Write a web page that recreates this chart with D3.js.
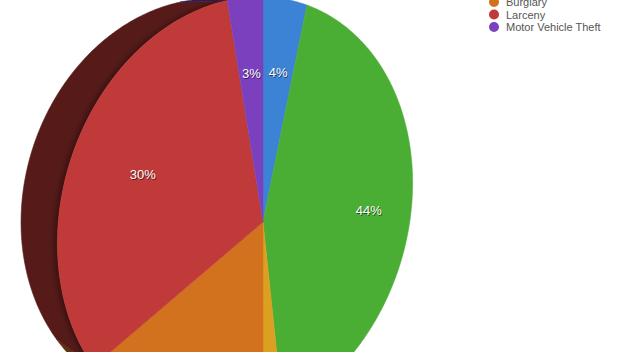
<!DOCTYPE html>
<html>
<head>
<meta charset="utf-8">
<script src="https://cdn.jsdelivr.net/npm/d3@7"></script>
<style>
  html, body { margin: 0; padding: 0; background: #fff; }
  svg { display: block; }
  .label { font-family: "Liberation Sans", Arial, sans-serif; font-size: 13px; fill: #fff;
           text-anchor: middle; dominant-baseline: central; }
  .legend text { font-family: "Liberation Sans", Arial, sans-serif; font-size: 11px; fill: #555; }
</style>
</head>
<body>
<svg id="chart" width="622" height="352"></svg>
<script>
// crime share, clockwise from 12 o'clock
var categories = ['Robbery', 'Assault', 'Homicide', 'Burglary', 'Larceny', 'Motor Vehicle Theft'];
var shares = [4, 44, 2, 17, 30, 3];
var labels = ['4%', '44%', '', '', '30%', '3%'];
var topColors = ['#3c83d6', '#4aad34', '#dca021', '#d2721f', '#bf3a39', '#7a40bd'];
var sideColors = ['#1c3a60', '#21501a', '#634810', '#5e3210', '#561b19', '#361c55'];

var svg = d3.select('#chart');
var defs = svg.append('defs');
defs.append('filter').attr('id', 'soft')
  .attr('x', '-10%').attr('y', '-10%').attr('width', '120%').attr('height', '120%')
  .append('feGaussianBlur').attr('stdDeviation', 3);
var wallClip = defs.append('clipPath').attr('id', 'wallClip');

// perspective view of the disc
var view = {
  cx: 263, cy: 222, k: 217, persp: 0.268,
  yaw: 37.2 * Math.PI / 180, pitch: 13.9 * Math.PI / 180, depth: 0.376
};

var project = function(theta, rad, z) {
  var x = rad * Math.sin(theta), y = -rad * Math.cos(theta);
  var ca = Math.cos(view.yaw), sa = Math.sin(view.yaw);
  var cb = Math.cos(view.pitch), sb = Math.sin(view.pitch);
  var x1 = x * ca - z * sa, z1 = x * sa + z * ca;
  var y2 = y * cb - z1 * sb, z2 = y * sb + z1 * cb;
  var w = 1 + view.persp * z2;
  return [view.cx + view.k * x1 / w, view.cy + view.k * y2 / w];
};

var pie = d3.pie().sort(null).value(function(d) { return d; });
var arcs = pie(shares);
var line = d3.line();
var step = Math.PI / 360;

var sampleArc = function(a0, a1) {
  var n = Math.max(2, Math.ceil((a1 - a0) / step));
  return d3.range(n + 1).map(function(i) { return a0 + (a1 - a0) * i / n; });
};

// side walls, only the parts turned towards us
var walls = svg.append('g');
arcs.forEach(function(a, i) {
  var ts = sampleArc(a.startAngle, a.endAngle);
  var front = [], back = [];
  for (var j = 0; j < ts.length - 1; j++) {
    var f0 = project(ts[j], 1, 0), f1 = project(ts[j + 1], 1, 0);
    var b0 = project(ts[j], 1, view.depth);
    var cross = (f1[0] - f0[0]) * (b0[1] - f0[1]) - (f1[1] - f0[1]) * (b0[0] - f0[0]);
    if (cross < 0) {
      if (!front.length) { front.push(f0); back.push(b0); }
      front.push(f1); back.push(project(ts[j + 1], 1, view.depth));
    }
  }
  if (front.length) {
    var d = line(front.concat(back.reverse())) + 'Z';
    walls.append('path').attr('d', d)
      .attr('fill', sideColors[i])
      .attr('stroke', sideColors[i])
      .attr('stroke-width', 0.6);
    wallClip.append('path').attr('d', d);
  }
});

// shadow of the top face on the rim
var rim = d3.range(0, 721).map(function(i) { return project(i * step, 1, 0); });
svg.append('g').attr('clip-path', 'url(#wallClip)')
  .append('path')
  .attr('d', line(rim) + 'Z')
  .attr('transform', 'translate(-3,0)')
  .attr('fill', 'rgba(0,0,0,0.4)')
  .attr('filter', 'url(#soft)');

// top face slices
var faces = svg.append('g');
arcs.forEach(function(a, i) {
  var pts = [project(0, 0, 0)].concat(sampleArc(a.startAngle, a.endAngle).map(function(t) {
    return project(t, 1, 0);
  }));
  faces.append('path')
    .attr('d', line(pts) + 'Z')
    .attr('fill', topColors[i])
    .attr('stroke', topColors[i])
    .attr('stroke-width', 0.5);
});

// percentage labels
var labelG = svg.append('g');
arcs.forEach(function(a, i) {
  if (!labels[i]) return;
  var p = project((a.startAngle + a.endAngle) / 2, 0.68, 0);
  labelG.append('text').attr('class', 'label')
    .attr('x', p[0] + 0.8).attr('y', p[1] + 1)
    .style('fill', 'rgba(0,0,0,0.6)')
    .text(labels[i]);
  labelG.append('text').attr('class', 'label')
    .attr('x', p[0]).attr('y', p[1])
    .text(labels[i]);
});

// legend (first entries sit above the visible area)
var legend = svg.append('g').attr('class', 'legend');
categories.forEach(function(c, i) {
  var y = 6 + (i - 3) * 12.5;
  legend.append('circle').attr('cx', 494).attr('cy', y - 4).attr('r', 5).attr('fill', topColors[i]);
  legend.append('text').attr('x', 506).attr('y', y).text(c);
});
</script>
</body>
</html>
